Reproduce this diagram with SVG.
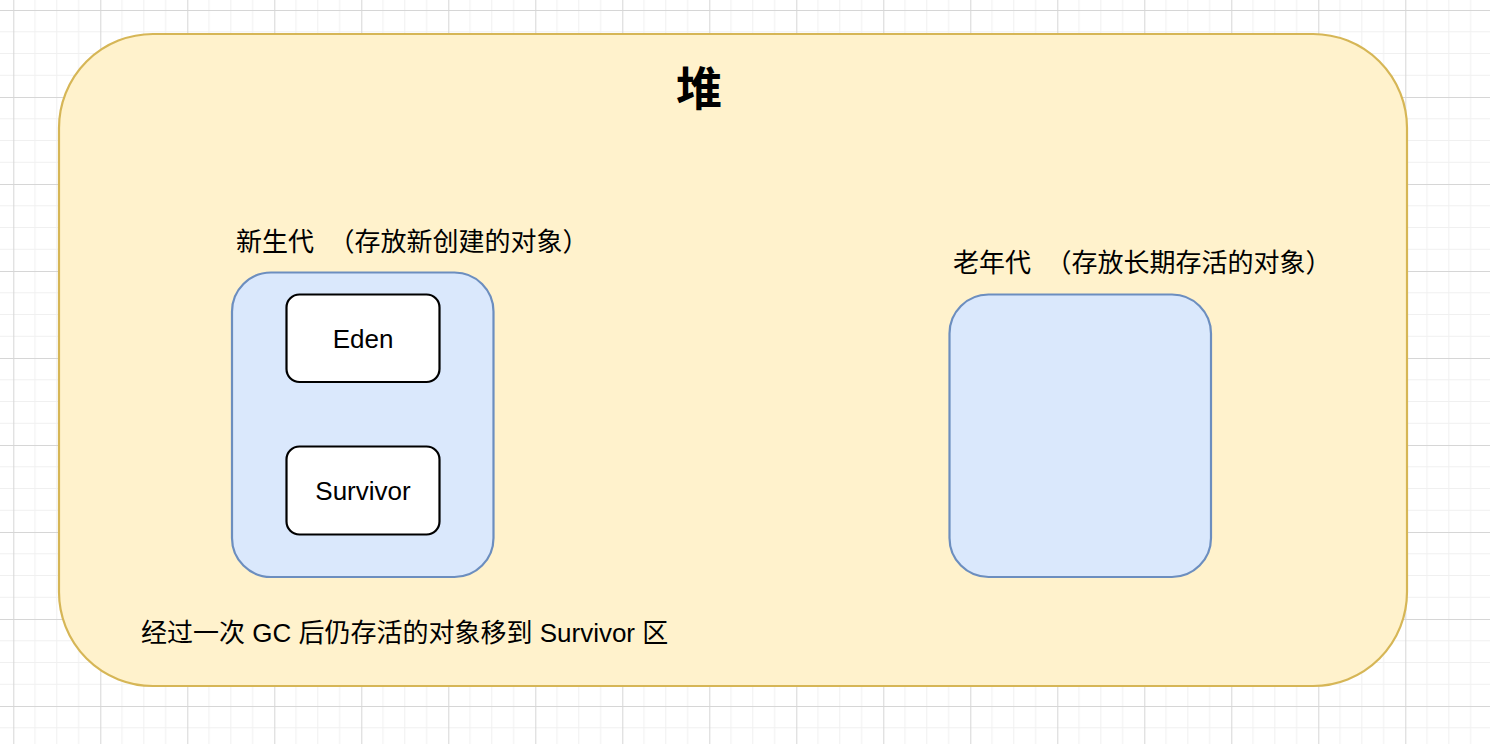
<svg xmlns="http://www.w3.org/2000/svg" width="1490" height="744" viewBox="0 0 1490 744">
  <defs>
    <pattern id="grid" patternUnits="userSpaceOnUse" x="13.3" y="10" width="87" height="87">
      <path d="M21.75 0V87M43.5 0V87M65.25 0V87M0 21.75H87M0 43.5H87M0 65.25H87" stroke="#f0f0f0" stroke-width="1" fill="none"/>
      <path d="M0.5 0V87M0 0.5H87" stroke="#d6d6d6" stroke-width="1" fill="none"/>
    </pattern>
    <style>
      .heap { fill: #fff2cc; stroke: #d6b656; stroke-width: 2.2; }
      .gen { fill: #dae8fc; stroke: #6c8ebf; stroke-width: 2.2; }
      .box { fill: #ffffff; stroke: #000000; stroke-width: 2.2; }
      .lbl { font-family: "Liberation Sans", "Noto Sans CJK SC", sans-serif; font-size: 26px; fill: #000000; white-space: pre; }
      .title { font-family: "Liberation Sans", "Noto Sans CJK SC", sans-serif; font-size: 46px; font-weight: bold; fill: #000000; }
      .mid { text-anchor: middle; }
    </style>
  </defs>
  <rect x="0" y="0" width="1490" height="744" fill="#ffffff"/>
  <rect x="0" y="0" width="1490" height="744" fill="url(#grid)"/>

  <g id="heap">
    <rect class="heap" x="59" y="34" width="1348" height="652" rx="94" ry="94"/>
    <text class="title mid" x="699" y="105">堆</text>
  </g>

  <g id="young-gen">
    <rect class="gen" x="232" y="272.5" width="261.5" height="304.5" rx="39" ry="39"/>
    <text class="lbl" x="236" y="251" xml:space="preserve">新生代  （存放新创建的对象）</text>
  </g>

  <g id="eden">
    <rect class="box" x="286.5" y="294.5" width="153" height="87.5" rx="13" ry="13"/>
    <text class="lbl mid" x="363" y="348">Eden</text>
  </g>

  <g id="survivor">
    <rect class="box" x="286.5" y="446.5" width="153" height="88" rx="13" ry="13"/>
    <text class="lbl mid" x="363" y="500">Survivor</text>
  </g>

  <g id="old-gen">
    <rect class="gen" x="949.5" y="294.5" width="261.5" height="282.5" rx="39" ry="39"/>
    <text class="lbl" x="953" y="272" xml:space="preserve">老年代  （存放长期存活的对象）</text>
  </g>

  <g id="note">
    <text class="lbl" x="141" y="642">经过一次 GC 后仍存活的对象移到 Survivor 区</text>
  </g>

  <g id="connectors"/>
</svg>
